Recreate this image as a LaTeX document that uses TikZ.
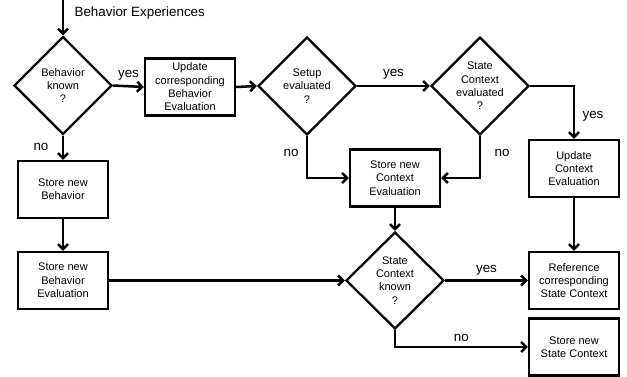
\documentclass[tikz,border=0pt]{standalone}
\usepackage{fontspec}
\setmainfont{Liberation Sans}
\usetikzlibrary{shapes.geometric,arrows.meta}
\begin{document}
\begin{tikzpicture}[x=1pt,y=-1pt,
  line width=2.5pt,
  arr/.style={-{Straight Barb[length=5pt,width=10pt,line width=2.5pt]}},
  box/.style={draw,line width=2.3pt,minimum width=90pt,minimum height=57pt,inner sep=0pt,align=center,font=\fontsize{11}{13.3}\selectfont},
  dia/.style={draw,line width=2.3pt,diamond,minimum width=98pt,minimum height=98pt,inner sep=0pt,align=center,font=\fontsize{11}{13.3}\selectfont},
  lab/.style={font=\fontsize{13.4}{15}\selectfont}]
\useasboundingbox (0,0) rectangle (627,377);
\coordinate (start) at (63,-2);
\node[dia] (d1) at (63,85.5) {Behavior\\known\\?};
\node[box] (b1) at (190,87) {Update\\corresponding\\Behavior\\Evaluation};
\node[dia] (d2) at (307,86) {Setup\\evaluated\\?};
\node[dia] (d3) at (480,86) {State\\Context\\evaluated\\?};
\node[box] (b5) at (574,168.5) {Update\\Context\\Evaluation};
\node[box] (b4) at (395,178) {Store new\\Context\\Evaluation};
\node[dia,minimum height=97pt] (d4) at (395,280.5) {State\\Context\\known\\?};
\node[box] (b6) at (574,280.5) {Reference\\corresponding\\State Context};
\node[box] (b7) at (574,347) {Store new\\State Context};
\node[box] (b2) at (63,189.5) {Store new\\Behavior};
\node[box] (b3) at (63,280.5) {Store new\\Behavior\\Evaluation};

\node[lab,anchor=west] at (70,13) {Behavior Experiences};
\draw[arr] (start) -- (d1.north);
\draw[arr] (d1.east) -- (b1.west) node[lab,midway,above=1pt] {yes};
\draw[arr] (b1.east) -- (d2.west);
\draw[arr] (d2.east) -- (d3.west) node[lab,midway,above=2pt] {yes};
\draw[arr] (d3.east) -| (b5.north);
\node[lab] at (593,116) {yes};
\draw[arr] (d2.south) |- (b4.west);
\node[lab] at (291,153) {no};
\draw[arr] (d3.south) |- (b4.east);
\node[lab] at (502,153) {no};
\draw[arr] (b4.south) -- (d4.north);
\draw[arr] (d4.east) -- (b6.west) node[lab,midway,above=1pt] {yes};
\draw[arr] (b5.south) -- (b6.north);
\draw[arr] (d4.south) |- (b7.west) node[lab,pos=0.75,above=1pt] {no};
\draw[arr] (d1.south) -- (b2.north);
\node[lab] at (41,147) {no};
\draw[arr] (b2.south) -- (b3.north);
\draw[arr] (b3.east) -- (d4.west);
\end{tikzpicture}
\end{document}
